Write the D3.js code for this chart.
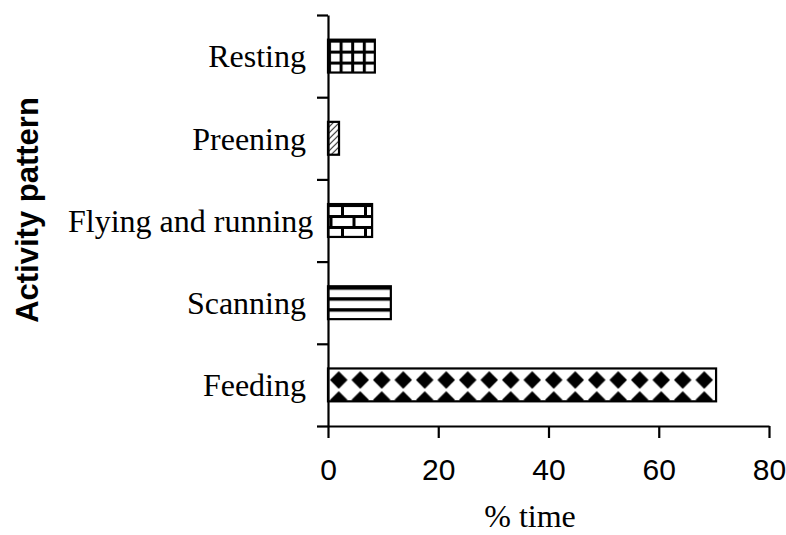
<!DOCTYPE html>
<html>
<head>
<meta charset="utf-8">
<script src="https://cdn.jsdelivr.net/npm/d3@7"></script>
<style>
  body { margin: 0; background: #fff; }
  svg { display: block; }
</style>
</head>
<body>
<script>
// data, top bar first
const categories = ['Resting', 'Preening', 'Flying and running', 'Scanning', 'Feeding'];
const percentTime = [8.5, 2, 8, 11.4, 70.4];
const xTicks = [0, 20, 40, 60, 80];

// fill pattern used for each bar
const patternOf = {
  'Resting': 'grid',
  'Preening': 'diagonal',
  'Flying and running': 'bricks',
  'Scanning': 'stripes',
  'Feeding': 'diamonds'
};

const width = 786;
const height = 535;

const svg = d3.select(document.body)
  .append('svg')
  .attr('width', width)
  .attr('height', height);

const x = d3.scaleLinear()
  .domain([0, 80])
  .range([328, 769]);

const y = d3.scaleBand()
  .domain(categories)
  .range([15, 426])
  .paddingInner(0.6)
  .paddingOuter(0.3);

// band edges for the category axis ticks
const yEdge = d3.scaleLinear()
  .domain([0, categories.length])
  .range([426, 15]);

const bw = y.bandwidth();
const defs = svg.append('defs');

function makePattern(id, px, py, w, h) {
  return defs.append('pattern')
    .attr('id', id)
    .attr('patternUnits', 'userSpaceOnUse')
    .attr('x', px)
    .attr('y', py)
    .attr('width', w)
    .attr('height', h);
}

const builders = {
  grid: (id, cat) => {
    const w = 11.6, h = bw / 3;
    const p = makePattern(id, x(0), y(cat), w, h);
    p.append('rect').attr('width', w).attr('height', h).style('fill', '#fff');
    p.append('rect').attr('width', 3).attr('height', h).style('fill', '#000');
    p.append('rect').attr('width', w).attr('height', 3).style('fill', '#000');
  },
  diagonal: (id, cat) => {
    const s = 6;
    const p = makePattern(id, x(0), y(cat), s, s);
    p.append('rect').attr('width', s).attr('height', s).style('fill', '#fff');
    p.append('path')
      .attr('d', `M0,${s} L${s},0 M-1,1 L1,-1 M${s - 1},${s + 1} L${s + 1},${s - 1}`)
      .style('stroke', '#333')
      .style('stroke-width', 1.2);
  },
  bricks: (id, cat) => {
    const w = 23, h = bw / 3;
    const p = makePattern(id, x(0) + 13, y(cat), w, 2 * h);
    p.append('rect').attr('width', w).attr('height', 2 * h).style('fill', '#fff');
    p.append('rect').attr('width', w).attr('height', 3).style('fill', '#000');
    p.append('rect').attr('y', h).attr('width', w).attr('height', 3).style('fill', '#000');
    p.append('rect').attr('x', 0).attr('width', 3).attr('height', h).style('fill', '#000');
    p.append('rect').attr('x', w / 2).attr('y', h).attr('width', 3).attr('height', h).style('fill', '#000');
  },
  stripes: (id, cat) => {
    const w = 10, h = bw / 3;
    const p = makePattern(id, x(0), y(cat), w, h);
    p.append('rect').attr('width', w).attr('height', h).style('fill', '#fff');
    p.append('rect').attr('width', w).attr('height', 3.5).style('fill', '#000');
  },
  diamonds: (id, cat) => {
    const w = 21.5, h = 20;
    const p = makePattern(id, x(0), y(cat), w, h);
    p.append('rect').attr('width', w).attr('height', h).style('fill', '#fff');
    const cx = w / 2, cy = 11.6;
    p.append('path')
      .attr('d', `M${cx},${cy - 8.8} L${cx + 8.8},${cy} L${cx},${cy + 8.8} L${cx - 8.8},${cy} Z`)
      .style('fill', '#000');
  }
};

categories.forEach((c, i) => builders[patternOf[c]]('pat' + i, c));

// bars
svg.selectAll('rect.bar')
  .data(categories)
  .enter()
  .append('rect')
  .attr('class', 'bar')
  .attr('x', x(0))
  .attr('y', d => y(d))
  .attr('width', (d, i) => x(percentTime[i]) - x(0))
  .attr('height', bw)
  .style('fill', (d, i) => `url(#pat${i})`)
  .style('stroke', '#000')
  .style('stroke-width', 2.2);

// x axis
const xAxis = svg.append('g')
  .attr('transform', `translate(0,${yEdge(0)})`)
  .call(d3.axisBottom(x)
    .tickValues(xTicks)
    .tickSize(12)
    .tickSizeOuter(0)
    .tickPadding(21));

xAxis.selectAll('text')
  .style('font-family', '"Liberation Sans", Arial, sans-serif')
  .style('font-size', '30px')
  .style('fill', '#000');

// y axis (ticks at band edges)
svg.append('g')
  .attr('transform', `translate(${x(0)},0)`)
  .call(d3.axisLeft(yEdge)
    .tickValues(d3.range(categories.length + 1))
    .tickSize(11)
    .tickSizeOuter(0)
    .tickFormat(''));

svg.selectAll('.domain, .tick line')
  .style('stroke', '#000')
  .style('stroke-width', 2.2);

// category labels, right aligned but kept inside the left edge
const minLeft = 68;
svg.selectAll('text.cat')
  .data(categories)
  .enter()
  .append('text')
  .attr('class', 'cat')
  .attr('x', 306)
  .attr('y', d => y(d) + bw / 2)
  .attr('dy', '0.35em')
  .attr('text-anchor', 'end')
  .style('font-family', '"Liberation Serif", "Times New Roman", serif')
  .style('font-size', '32px')
  .style('fill', '#000')
  .text(d => d)
  .each(function () {
    const len = this.getComputedTextLength();
    if (306 - len < minLeft) {
      d3.select(this).attr('text-anchor', 'start').attr('x', minLeft);
    }
  });

// axis titles
svg.append('text')
  .attr('x', 530)
  .attr('y', 527)
  .attr('text-anchor', 'middle')
  .style('font-family', '"Liberation Serif", "Times New Roman", serif')
  .style('font-size', '32px')
  .style('fill', '#000')
  .text('% time');

svg.append('text')
  .attr('transform', 'translate(38,210) rotate(-90)')
  .attr('text-anchor', 'middle')
  .style('font-family', '"Liberation Sans", Arial, sans-serif')
  .style('font-weight', 'bold')
  .style('font-size', '31px')
  .style('fill', '#000')
  .text('Activity pattern');
</script>
</body>
</html>
